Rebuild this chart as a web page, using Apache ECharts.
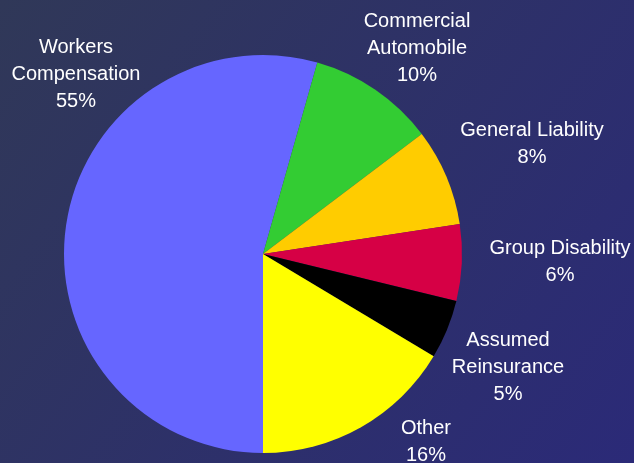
<!DOCTYPE html>
<html>
<head>
<meta charset="utf-8">
<script src="https://cdn.jsdelivr.net/npm/echarts@6/dist/echarts.min.js"></script>
<style>
html,body{margin:0;padding:0;width:634px;height:463px;overflow:hidden;}
#c{width:634px;height:463px;}
</style>
</head>
<body>
<div id="c"></div>
<script>
var categories = ['Workers\nCompensation', 'Commercial\nAutomobile', 'General Liability', 'Group Disability', 'Assumed\nReinsurance', 'Other'];
// slice shares as drawn in the picture
var values = [54.4, 10.3, 7.9, 6.2, 4.8, 16.4];
// percentages as printed on the labels
var percentLabels = ['55%', '10%', '8%', '6%', '5%', '16%'];
var colors = ['#6666ff', '#33cc33', '#ffcc00', '#d60045', '#000000', '#ffff00'];
var labelPos = [[76, 74], [417, 48], [532, 144], [560, 262], [508, 367], [426, 442]];

var chart = echarts.init(document.getElementById('c'), null, {renderer: 'canvas'});
chart.setOption({
  backgroundColor: {
    type: 'linear', x: 0, y: 0, x2: 1, y2: 1,
    colorStops: [{offset: 0, color: '#303858'}, {offset: 1, color: '#2b2a78'}]
  },
  animation: false,
  series: [{
    type: 'pie',
    center: [263, 254],
    radius: 199,
    startAngle: -90,
    clockwise: true,
    avoidLabelOverlap: false,
    data: categories.map(function (n, i) {
      return {name: n, value: values[i], itemStyle: {color: colors[i]}};
    }),
    label: {
      show: true,
      formatter: function (p) { return p.name + '\n' + percentLabels[p.dataIndex]; },
      color: '#ffffff',
      fontFamily: 'Liberation Sans, Arial, sans-serif',
      fontSize: 20,
      lineHeight: 27,
      align: 'center'
    },
    labelLine: {show: false},
    labelLayout: function (p) {
      var pos = labelPos[p.dataIndex];
      return {x: pos[0], y: pos[1], align: 'center', verticalAlign: 'middle'};
    },
    emphasis: {disabled: true}
  }]
});
</script>
</body>
</html>
